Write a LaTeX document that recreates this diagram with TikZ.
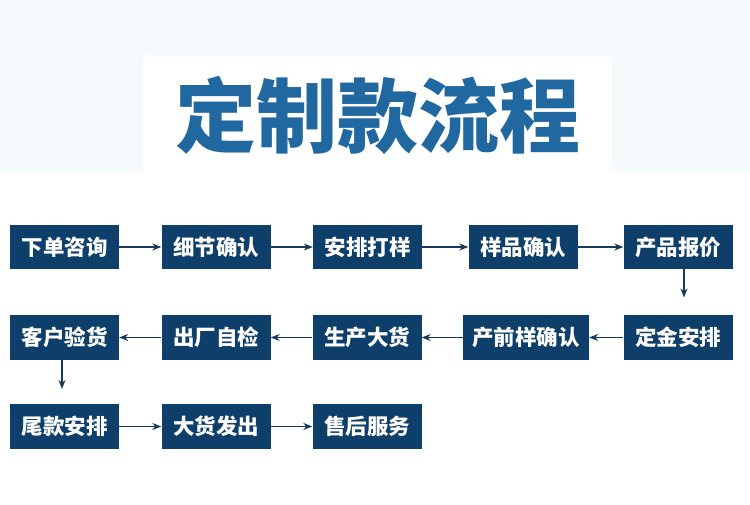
\documentclass[tikz,border=0pt]{standalone}
\usepackage{fontspec}
\newfontfamily\cjk{Noto Sans CJK SC}
\usetikzlibrary{arrows.meta}
\definecolor{boxblue}{RGB}{14,62,106}
\definecolor{titleblue}{RGB}{33,104,161}
\definecolor{arrowblue}{RGB}{24,58,92}
\definecolor{lightbg}{RGB}{245,250,253}
\tikzset{
  stepbox/.style={fill=boxblue, text=white, inner sep=0pt, minimum width=109pt,
    minimum height=44.5pt, font=\cjk\bfseries\fontsize{21.5}{24}\selectfont},
  arr/.style={draw=arrowblue, line width=1.1pt, -{Stealth[length=9pt,width=7pt]}}
}
\begin{document}
\begin{tikzpicture}[x=1pt,y=-1pt]
\useasboundingbox (0,0) rectangle (750,505);
\fill[white] (0,0) rectangle (750,505);
\fill[lightbg] (0,0) rectangle (750,172);
\fill[white, rounded corners=4pt] (143,55) rectangle (612,172);
\node[text=titleblue, font=\cjk\bfseries\fontsize{81}{90}\selectfont, inner sep=0pt] (title) at (378,115) {定制款流程};
% row 1
\node[stepbox] (b1) at (64.5,247) {下单咨询};
\node[stepbox] (b2) at (216,247) {细节确认};
\node[stepbox] (b3) at (367.5,247) {安排打样};
\node[stepbox] (b4) at (523,247) {样品确认};
\node[stepbox] (b5) at (678,247) {产品报价};
% row 2
\node[stepbox] (b6) at (678,337.5) {定金安排};
\node[stepbox, minimum width=126pt] (b7) at (526,337.5) {产前样确认};
\node[stepbox] (b8) at (367,337.5) {生产大货};
\node[stepbox] (b9) at (216,337.5) {出厂自检};
\node[stepbox] (b10) at (64.5,337.5) {客户验货};
% row 3
\node[stepbox] (b11) at (64.5,426.5) {尾款安排};
\node[stepbox] (b12) at (216,426.5) {大货发出};
\node[stepbox] (b13) at (367,426.5) {售后服务};
% arrows
\draw[arr] (b1) -- (b2);
\draw[arr] (b2) -- (b3);
\draw[arr] (b3) -- (b4);
\draw[arr] (b4) -- (b5);
\coordinate (v1) at ([xshift=6pt,yshift=-28pt]b5.south);
\draw[arr] ([xshift=6pt]b5.south) -- (v1);
\draw[arr] (b6) -- (b7);
\draw[arr] (b7) -- (b8);
\draw[arr] (b8) -- (b9);
\draw[arr] (b9) -- (b10);
\coordinate (v2) at ([xshift=-2.5pt,yshift=-29pt]b10.south);
\draw[arr] ([xshift=-2.5pt]b10.south) -- (v2);
\draw[arr] (b11) -- (b12);
\draw[arr] (b12) -- (b13);
\end{tikzpicture}
\end{document}
